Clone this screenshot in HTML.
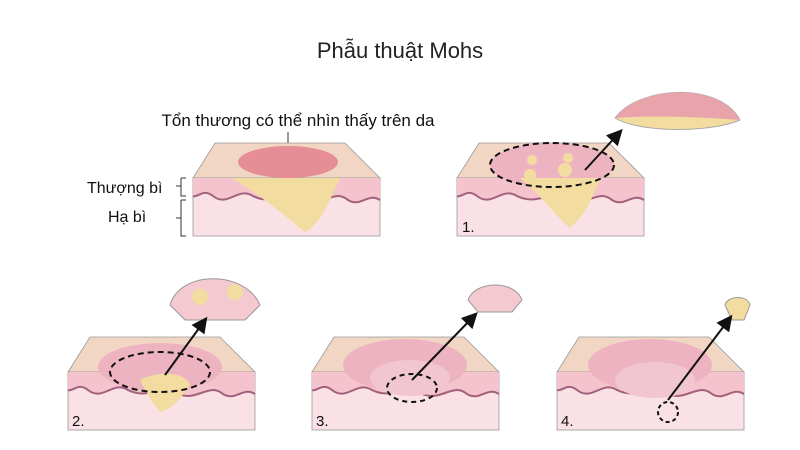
<!DOCTYPE html><html><head><style>body{margin:0;background:#fff}svg{display:block}text{font-family:"Liberation Sans",sans-serif}</style></head><body>
<svg width="800" height="450" viewBox="0 0 800 450">
<defs>
<g id="blk">
<polygon points="22,-35 152,-35 187,0 0,0" fill="#f2d6c4" stroke="#999" stroke-width="0.8"/>
<rect x="0" y="0" width="187" height="58" fill="#f9e1e6" stroke="#999" stroke-width="0.8"/>
<path d="M0,0 H187 V22 C175,14 168,30 155,22 C140,10 130,30 110,22 C90,12 80,28 60,18 C45,8 35,30 20,18 C10,10 5,20 0,18 Z" fill="#f5c3cd"/>
<path d="M0,18 C5,20 10,10 20,18 C35,30 45,8 60,18 C80,28 90,12 110,22 C130,30 140,10 155,22 C168,30 175,14 187,22" fill="none" stroke="#a3607c" stroke-width="2"/>
</g>
<marker id="ar" markerWidth="8" markerHeight="8" refX="6" refY="4" orient="auto"><path d="M0,0 L8,4 L0,8 Z" fill="#111"/></marker>
</defs>
<text x="400" y="58" font-size="22" text-anchor="middle" fill="#222">Phẫu thuật Mohs</text>
<text x="298" y="126" font-size="17" text-anchor="middle" fill="#111">Tổn thương có thể nhìn thấy trên da</text>
<line x1="288" y1="132" x2="288" y2="160" stroke="#333"/>
<text x="87" y="193" font-size="16" fill="#111">Thượng bì</text>
<text x="108" y="222" font-size="16" fill="#111">Hạ bì</text>
<path d="M176,186h5M181,178v18h5M181,178h5M176,218h5M181,200v36h5M181,200h5" stroke="#333" fill="none"/>
<use href="#blk" x="193" y="178"/>
<ellipse cx="288" cy="162" rx="50" ry="16" fill="#e58e96"/>
<path d="M232,178 L340,178 C330,200 320,225 305,232 C295,225 275,205 232,178Z" fill="#f3dca0"/>
<use href="#blk" x="457" y="178"/>
<ellipse cx="552" cy="165" rx="62" ry="22" fill="#eeb3c0"/>
<path d="M520,178 H600 C592,200 585,215 570,228 C555,215 545,200 520,178Z" fill="#f3dca0"/>
<circle cx="530" cy="175" r="6" fill="#f3dca0"/><circle cx="565" cy="170" r="7" fill="#f3dca0"/><circle cx="532" cy="160" r="5" fill="#f3dca0"/><circle cx="568" cy="158" r="5" fill="#f3dca0"/>
<ellipse cx="552" cy="165" rx="62" ry="22" fill="none" stroke="#111" stroke-width="2" stroke-dasharray="6,4"/>
<path d="M615,118 C640,85 720,82 740,120 C710,133 640,133 615,118Z" fill="#f3dca0" stroke="#aaa"/>
<path d="M615,118 C640,85 720,82 740,120 C700,117 650,115 615,118Z" fill="#e9a3aa"/>
<line x1="585" y1="170" x2="620" y2="132" stroke="#111" stroke-width="2" marker-end="url(#ar)"/>
<text x="462" y="232" font-size="15" fill="#111">1.</text>
<use href="#blk" x="68" y="372"/>
<ellipse cx="160" cy="367" rx="62" ry="24" fill="#eeb3c0"/>
<path d="M140,380 C160,370 185,372 190,385 C180,400 170,410 160,412 C150,400 145,390 140,380Z" fill="#f3dca0"/>
<ellipse cx="160" cy="372" rx="50" ry="20" fill="none" stroke="#111" stroke-width="2" stroke-dasharray="6,4"/>
<path d="M170,305 C180,270 245,270 260,305 L245,320 H185Z" fill="#f4c9d0" stroke="#999"/>
<circle cx="200" cy="297" r="8" fill="#f3dca0"/><circle cx="235" cy="292" r="8" fill="#f3dca0"/>
<line x1="165" y1="375" x2="205" y2="320" stroke="#111" stroke-width="2" marker-end="url(#ar)"/>
<text x="72" y="426" font-size="15" fill="#111">2.</text>
<use href="#blk" x="312" y="372"/>
<ellipse cx="405" cy="365" rx="62" ry="26" fill="#eeb3c0"/>
<ellipse cx="410" cy="378" rx="40" ry="18" fill="#f2c6d0"/>
<ellipse cx="412" cy="388" rx="25" ry="14" fill="none" stroke="#111" stroke-width="2" stroke-dasharray="5,4"/>
<path d="M468,300 C475,280 515,280 522,300 L512,312 H478Z" fill="#f4c9d0" stroke="#999"/>
<line x1="412" y1="380" x2="475" y2="315" stroke="#111" stroke-width="2" marker-end="url(#ar)"/>
<text x="316" y="426" font-size="15" fill="#111">3.</text>
<use href="#blk" x="557" y="372"/>
<ellipse cx="650" cy="365" rx="62" ry="26" fill="#eeb3c0"/>
<ellipse cx="655" cy="380" rx="40" ry="18" fill="#f2c6d0"/>
<circle cx="668" cy="412" r="10" fill="none" stroke="#111" stroke-width="2" stroke-dasharray="4,3"/>
<path d="M725,305 C728,295 748,295 750,305 L744,320 H732Z" fill="#f3dca0" stroke="#999"/>
<line x1="668" y1="400" x2="730" y2="318" stroke="#111" stroke-width="2" marker-end="url(#ar)"/>
<text x="561" y="426" font-size="15" fill="#111">4.</text>
</svg></body></html>
